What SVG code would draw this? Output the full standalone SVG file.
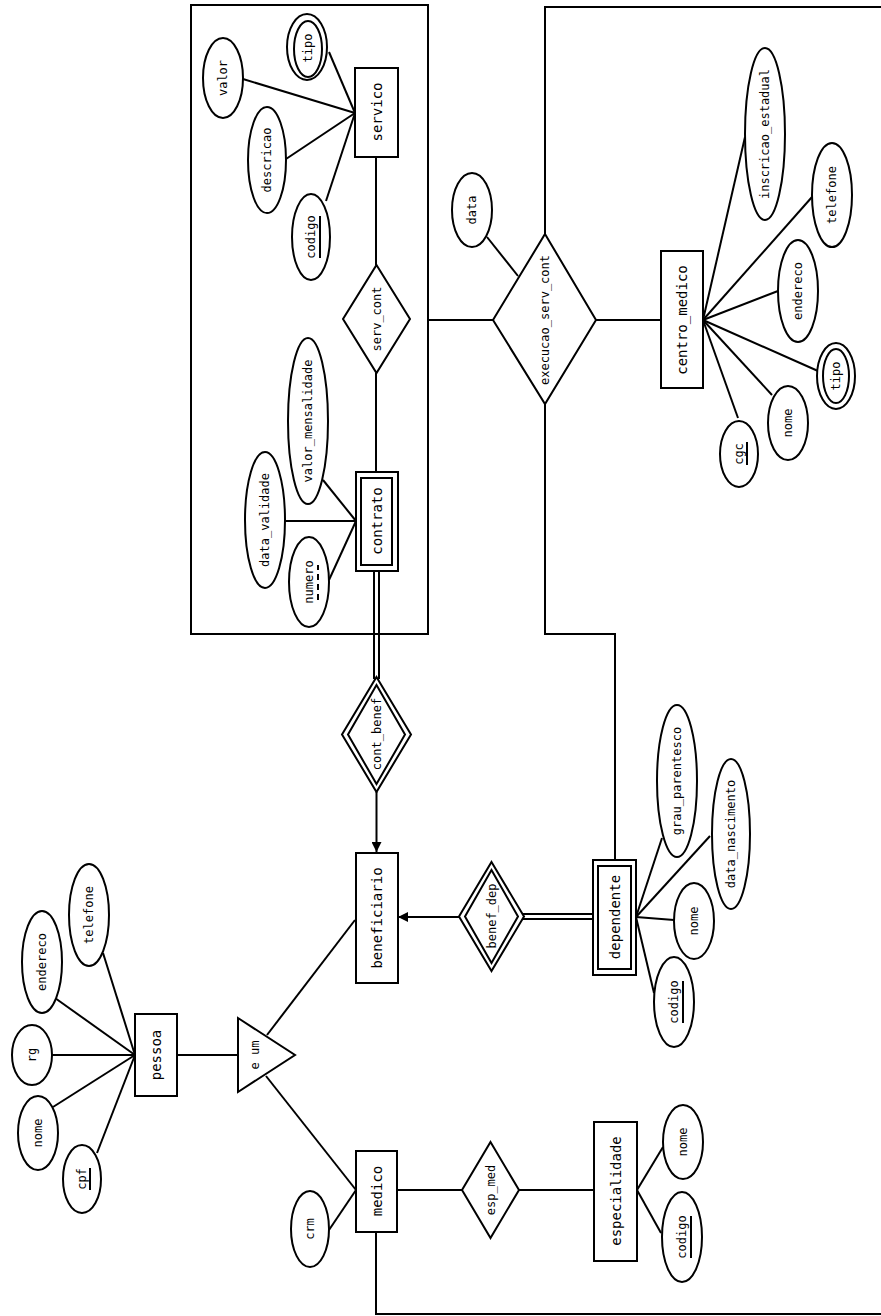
<svg xmlns="http://www.w3.org/2000/svg" width="881" height="1316" viewBox="0 0 881 1316">
<defs>
<style>
.s{fill:#fff;stroke:#000;stroke-width:2}
.c{fill:none;stroke:#000;stroke-width:2}
.k{stroke:#000;stroke-width:2}
.kd{stroke:#000;stroke-width:2;stroke-dasharray:6 4}
text{font-family:"DejaVu Sans Mono","Liberation Mono",monospace;fill:#000;text-anchor:middle;dominant-baseline:central}
.e{font-size:14px}
.a{font-size:12px}
</style>
<marker id="arr" viewBox="0 0 10 10" refX="10" refY="5" markerWidth="5" markerHeight="5" orient="auto" markerUnits="strokeWidth">
<path d="M0,0 L10,5 L0,10 z" fill="#000"/>
</marker>
</defs>
<rect width="881" height="1316" fill="#fff"/>

<g id="connectors">
<!-- servico attributes -->
<line class="k" x1="355" y1="113" x2="329" y2="52"/>
<line class="k" x1="355" y1="113" x2="243" y2="79"/>
<line class="k" x1="355" y1="113" x2="286" y2="159"/>
<line class="k" x1="355" y1="113" x2="326" y2="201"/>
<line class="k" x1="376" y1="157" x2="376" y2="265"/>
<line class="k" x1="376" y1="373" x2="376" y2="473"/>
<!-- contrato attributes -->
<line class="k" x1="356" y1="521" x2="323" y2="480"/>
<line class="k" x1="356" y1="521" x2="285" y2="521"/>
<line class="k" x1="356" y1="521" x2="329" y2="580"/>
<!-- contrato - cont_benef double -->
<line class="k" x1="374" y1="571" x2="374" y2="679"/>
<line class="k" x1="379" y1="571" x2="379" y2="679"/>
<line class="k" x1="376.5" y1="792" x2="376.5" y2="852" marker-end="url(#arr)"/>
<!-- aggregation - execucao -->
<line class="k" x1="428" y1="320" x2="493" y2="320"/>
<polyline class="c" points="545,234 545,7 881,7"/>
<polyline class="c" points="545,404 545,634 615,634 615,860"/>
<line class="k" x1="487" y1="237" x2="518" y2="276"/>
<line class="k" x1="596" y1="320" x2="661" y2="320"/>
<!-- centro_medico attributes -->
<line class="k" x1="703" y1="320" x2="745" y2="137"/>
<line class="k" x1="703" y1="320" x2="812" y2="197"/>
<line class="k" x1="703" y1="320" x2="778" y2="291"/>
<line class="k" x1="703" y1="320" x2="818" y2="371"/>
<line class="k" x1="703" y1="320" x2="772" y2="395"/>
<line class="k" x1="703" y1="320" x2="738" y2="418"/>
<!-- benef_dep -->
<line class="k" x1="459" y1="917" x2="398" y2="917" marker-end="url(#arr)"/>
<line class="k" x1="521" y1="914" x2="594" y2="914"/>
<line class="k" x1="521" y1="919" x2="594" y2="919"/>
<!-- dependente attributes -->
<line class="k" x1="636" y1="917" x2="662" y2="838"/>
<line class="k" x1="636" y1="917" x2="710" y2="836"/>
<line class="k" x1="636" y1="917" x2="674" y2="920"/>
<line class="k" x1="636" y1="917" x2="654" y2="993"/>
<!-- pessoa attributes -->
<line class="k" x1="135" y1="1055" x2="103" y2="953"/>
<line class="k" x1="135" y1="1055" x2="55" y2="998"/>
<line class="k" x1="135" y1="1055" x2="52" y2="1055"/>
<line class="k" x1="135" y1="1055" x2="53" y2="1107"/>
<line class="k" x1="135" y1="1055" x2="97" y2="1153"/>
<line class="k" x1="177" y1="1055" x2="238" y2="1055"/>
<line class="k" x1="267" y1="1035" x2="355" y2="920"/>
<line class="k" x1="266" y1="1076" x2="356" y2="1190"/>
<!-- medico -->
<line class="k" x1="329" y1="1230" x2="356" y2="1190"/>
<line class="k" x1="397" y1="1190" x2="462" y2="1190"/>
<line class="k" x1="519" y1="1190" x2="594" y2="1190"/>
<line class="k" x1="637" y1="1190" x2="663" y2="1147"/>
<line class="k" x1="637" y1="1190" x2="661" y2="1233"/>
<polyline class="c" points="376,1232 376,1314 881,1314"/>
</g>

<g id="aggregation">
<rect class="c" x="191" y="5" width="237" height="629"/>
</g>

<g id="servico">
<rect class="s" x="355" y="68" width="43" height="89"/>
<text class="e" x="377" y="112" transform="rotate(-90 377 112)">servico</text>
</g>
<g id="servico_tipo">
<ellipse class="s" cx="307" cy="47" rx="20" ry="33"/>
<ellipse class="s" cx="308" cy="49" rx="14" ry="28"/>
<text class="a" x="308" y="48" transform="rotate(-90 308 48)">tipo</text>
</g>
<g id="servico_valor">
<ellipse class="s" cx="223" cy="78" rx="20" ry="40"/>
<text class="a" x="223" y="78" transform="rotate(-90 223 78)">valor</text>
</g>
<g id="servico_descricao">
<ellipse class="s" cx="267" cy="160" rx="19" ry="53"/>
<text class="a" x="267" y="160" transform="rotate(-90 267 160)">descricao</text>
</g>
<g id="servico_codigo">
<ellipse class="s" cx="311" cy="237" rx="19" ry="43"/>
<text class="a" x="311" y="237" transform="rotate(-90 311 237)">codigo</text>
<line class="k" x1="320" y1="216" x2="320" y2="258"/>
</g>

<g id="serv_cont">
<polygon class="s" points="376.5,265 410,319 376.5,373 343,319"/>
<text class="a" x="377" y="319" transform="rotate(-90 377 319)">serv_cont</text>
</g>

<g id="contrato">
<rect class="s" x="356" y="472" width="42" height="99"/>
<rect class="s" x="361" y="478" width="31" height="87"/>
<text class="e" x="377" y="521" transform="rotate(-90 377 521)">contrato</text>
</g>
<g id="contrato_valor_mensalidade">
<ellipse class="s" cx="308" cy="421" rx="20" ry="83"/>
<text class="a" x="308" y="421" transform="rotate(-90 308 421)">valor_mensalidade</text>
</g>
<g id="contrato_data_validade">
<ellipse class="s" cx="265" cy="520" rx="20" ry="68"/>
<text class="a" x="265" y="520" transform="rotate(-90 265 520)">data_validade</text>
</g>
<g id="contrato_numero">
<ellipse class="s" cx="309" cy="582" rx="20" ry="45"/>
<text class="a" x="309" y="582" transform="rotate(-90 309 582)">numero</text>
<line class="kd" x1="318" y1="600" x2="318" y2="565"/>
</g>

<g id="execucao_serv_cont">
<polygon class="s" points="545,234 596,320 545,404 493,320"/>
<text class="a" x="545" y="320" transform="rotate(-90 545 320)">execucao_serv_cont</text>
</g>
<g id="execucao_data">
<ellipse class="s" cx="472" cy="210" rx="20" ry="37"/>
<text class="a" x="472" y="210" transform="rotate(-90 472 210)">data</text>
</g>

<g id="centro_medico">
<rect class="s" x="661" y="251" width="42" height="137"/>
<text class="e" x="682" y="320" transform="rotate(-90 682 320)">centro_medico</text>
</g>
<g id="cm_inscricao_estadual">
<ellipse class="s" cx="765" cy="134" rx="20" ry="86"/>
<text class="a" x="765" y="134" transform="rotate(-90 765 134)">inscricao_estadual</text>
</g>
<g id="cm_telefone">
<ellipse class="s" cx="832" cy="195" rx="20" ry="52"/>
<text class="a" x="832" y="195" transform="rotate(-90 832 195)">telefone</text>
</g>
<g id="cm_endereco">
<ellipse class="s" cx="798" cy="291" rx="20" ry="51"/>
<text class="a" x="798" y="291" transform="rotate(-90 798 291)">endereco</text>
</g>
<g id="cm_tipo">
<ellipse class="s" cx="836" cy="376" rx="19" ry="33"/>
<ellipse class="s" cx="836" cy="376" rx="13" ry="27"/>
<text class="a" x="836" y="376" transform="rotate(-90 836 376)">tipo</text>
</g>
<g id="cm_nome">
<ellipse class="s" cx="788" cy="423" rx="20" ry="37"/>
<text class="a" x="788" y="423" transform="rotate(-90 788 423)">nome</text>
</g>
<g id="cm_cgc">
<ellipse class="s" cx="739" cy="454" rx="19" ry="33"/>
<text class="a" x="739" y="454" transform="rotate(-90 739 454)">cgc</text>
<line class="k" x1="747" y1="442" x2="747" y2="465"/>
</g>

<g id="cont_benef">
<polygon class="s" points="376.5,677 411,734.5 376.5,792 342,734.5"/>
<polygon class="s" points="376.5,685 405,734.5 376.5,784 348,734.5"/>
<text class="a" x="377" y="734" transform="rotate(-90 377 734)">cont_benef</text>
</g>

<g id="beneficiario">
<rect class="s" x="356" y="853" width="42" height="130"/>
<text class="e" x="377" y="918" transform="rotate(-90 377 918)">beneficiario</text>
</g>

<g id="benef_dep">
<polygon class="s" points="491.5,862 524,916.5 491.5,971 459,916.5"/>
<polygon class="s" points="491.5,870 518,916.5 491.5,963 465,916.5"/>
<text class="a" x="492" y="916" transform="rotate(-90 492 916)">benef_dep</text>
</g>

<g id="dependente">
<rect class="s" x="593" y="860" width="43" height="115"/>
<rect class="s" x="598" y="866" width="33" height="103"/>
<text class="e" x="615" y="917" transform="rotate(-90 615 917)">dependente</text>
</g>
<g id="dep_grau_parentesco">
<ellipse class="s" cx="677" cy="781" rx="20" ry="76"/>
<text class="a" x="677" y="781" transform="rotate(-90 677 781)">grau_parentesco</text>
</g>
<g id="dep_data_nascimento">
<ellipse class="s" cx="731" cy="834" rx="19" ry="75"/>
<text class="a" x="731" y="834" transform="rotate(-90 731 834)">data_nascimento</text>
</g>
<g id="dep_nome">
<ellipse class="s" cx="694" cy="921" rx="20" ry="38"/>
<text class="a" x="694" y="921" transform="rotate(-90 694 921)">nome</text>
</g>
<g id="dep_codigo">
<ellipse class="s" cx="674" cy="1002" rx="20" ry="45"/>
<text class="a" x="674" y="1002" transform="rotate(-90 674 1002)">codigo</text>
<line class="k" x1="683" y1="981" x2="683" y2="1023"/>
</g>

<g id="pessoa">
<rect class="s" x="135" y="1014" width="42" height="82"/>
<text class="e" x="156" y="1055" transform="rotate(-90 156 1055)">pessoa</text>
</g>
<g id="pessoa_telefone">
<ellipse class="s" cx="89" cy="915" rx="20" ry="51"/>
<text class="a" x="89" y="915" transform="rotate(-90 89 915)">telefone</text>
</g>
<g id="pessoa_endereco">
<ellipse class="s" cx="42" cy="962" rx="20" ry="51"/>
<text class="a" x="42" y="962" transform="rotate(-90 42 962)">endereco</text>
</g>
<g id="pessoa_rg">
<ellipse class="s" cx="32" cy="1055" rx="20" ry="30"/>
<text class="a" x="32" y="1055" transform="rotate(-90 32 1055)">rg</text>
</g>
<g id="pessoa_nome">
<ellipse class="s" cx="38" cy="1133" rx="20" ry="37"/>
<text class="a" x="38" y="1133" transform="rotate(-90 38 1133)">nome</text>
</g>
<g id="pessoa_cpf">
<ellipse class="s" cx="82" cy="1179" rx="19" ry="34"/>
<text class="a" x="82" y="1179" transform="rotate(-90 82 1179)">cpf</text>
<line class="k" x1="90" y1="1168" x2="90" y2="1190"/>
</g>

<g id="e_um">
<polygon class="s" points="238,1018 295,1055 238,1092"/>
<text class="a" x="255" y="1055" transform="rotate(-90 255 1055)">e um</text>
</g>

<g id="medico">
<rect class="s" x="356" y="1151" width="41" height="81"/>
<text class="e" x="377" y="1191" transform="rotate(-90 377 1191)">medico</text>
</g>
<g id="medico_crm">
<ellipse class="s" cx="310" cy="1229" rx="19" ry="38"/>
<text class="a" x="310" y="1229" transform="rotate(-90 310 1229)">crm</text>
</g>

<g id="esp_med">
<polygon class="s" points="490.5,1142 519,1190 490.5,1238 462,1190"/>
<text class="a" x="491" y="1190" transform="rotate(-90 491 1190)">esp_med</text>
</g>

<g id="especialidade">
<rect class="s" x="594" y="1122" width="43" height="139"/>
<text class="e" x="616" y="1191" transform="rotate(-90 616 1191)">especialidade</text>
</g>
<g id="esp_nome">
<ellipse class="s" cx="683" cy="1142" rx="20" ry="37"/>
<text class="a" x="683" y="1142" transform="rotate(-90 683 1142)">nome</text>
</g>
<g id="esp_codigo">
<ellipse class="s" cx="682" cy="1237" rx="20" ry="45"/>
<text class="a" x="682" y="1237" transform="rotate(-90 682 1237)">codigo</text>
<line class="k" x1="691" y1="1216" x2="691" y2="1258"/>
</g>
</svg>
